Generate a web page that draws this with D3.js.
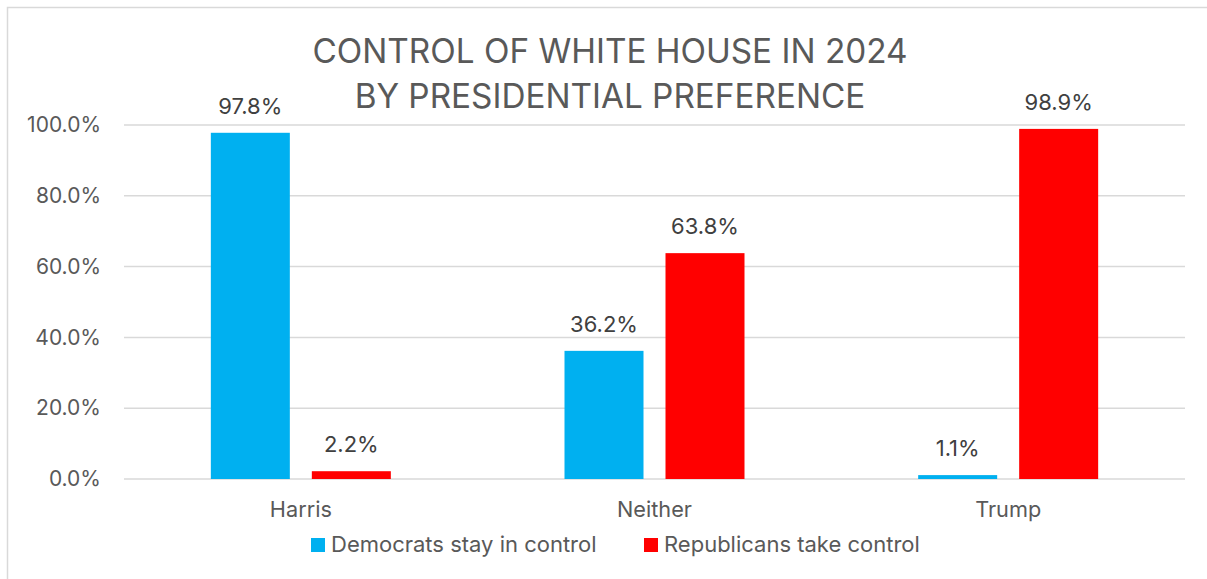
<!DOCTYPE html>
<html><head><meta charset="utf-8">
<script src="https://cdn.jsdelivr.net/npm/d3@7"></script>
<style>body{margin:0;background:#fff;font-family:Inter,sans-serif;}</style>
</head><body><svg id="c" width="1207" height="579"></svg>
<script>
const categories = ["Harris", "Neither", "Trump"];
const seriesNames = ["Democrats stay in control", "Republicans take control"];
const democrats = [0.978, 0.362, 0.011];
const republicans = [0.022, 0.638, 0.989];
const yTicks = [0, 0.2, 0.4, 0.6, 0.8, 1.0];
const titleLines = ["CONTROL OF WHITE HOUSE IN 2024", "BY PRESIDENTIAL PREFERENCE"];
const colors = ["#00B0F0", "#FF0000"];

(function () {
const svg = d3.select("#c");
const font = "Inter, 'Liberation Sans', sans-serif";
svg.append("rect").attr("x", 7.5).attr("y", 7.5).attr("width", 1205).attr("height", 580)
  .attr("fill", "#fff").attr("stroke", "#d9d9d9").attr("stroke-width", 1.5);

const pl = 124, pr = 1185, pt = 125, pb = 479;
const x = d3.scaleBand().domain(categories).range([pl, pr]).paddingInner(0).paddingOuter(0);
const y = d3.scaleLinear().domain([0, 1]).range([pb, pt]);
const barW = 79, gap = 22;

svg.append("g").selectAll("line").data(yTicks).join("line")
  .attr("x1", pl).attr("x2", pr)
  .attr("y1", d => y(d)).attr("y2", d => y(d))
  .attr("stroke", "#d9d9d9").attr("stroke-width", 1.5);

const yAxis = d3.axisLeft(y).tickValues(yTicks).tickFormat(d3.format(".1%")).tickSize(0).tickPadding(23);
const ya = svg.append("g").attr("transform", `translate(${pl},0)`).call(yAxis);
ya.select(".domain").remove();
ya.selectAll("text").attr("font-family", font).attr("font-size", 21).attr("fill", "#595959");

const xAxis = d3.axisBottom(x).tickSize(0).tickPadding(22);
const xa = svg.append("g").attr("transform", `translate(0,${pb})`).call(xAxis);
xa.select(".domain").remove();
xa.selectAll("text").attr("font-family", font).attr("font-size", 21.7).attr("fill", "#595959")
  .attr("dy", null).attr("y", 38);

const series = [democrats, republicans];
series.forEach((vals, si) => {
  const off = si === 0 ? -(gap / 2 + barW) : gap / 2;
  const g = svg.append("g");
  g.selectAll("rect").data(vals).join("rect")
    .attr("x", (d, i) => x(categories[i]) + x.bandwidth() / 2 + off)
    .attr("y", d => y(d)).attr("width", barW).attr("height", d => y(0) - y(d))
    .attr("fill", colors[si]);
  g.selectAll("text").data(vals).join("text")
    .attr("x", (d, i) => x(categories[i]) + x.bandwidth() / 2 + off + barW / 2)
    .attr("y", d => y(d) - 19)
    .attr("text-anchor", "middle").attr("font-family", font).attr("font-size", 22)
    .attr("fill", "#404040").text(d => d3.format(".1%")(d));
});

svg.append("g").selectAll("text").data(titleLines).join("text")
  .attr("x", 610).attr("y", (d, i) => 63 + i * 45)
  .attr("text-anchor", "middle").attr("font-family", font).attr("font-size", 33.3)
  .attr("fill", "#595959").text(d => d);

const legX = [311, 644];
const lg = svg.append("g");
seriesNames.forEach((n, i) => {
  lg.append("rect").attr("x", legX[i]).attr("y", 538).attr("width", 14).attr("height", 14).attr("fill", colors[i]);
  lg.append("text").attr("x", legX[i] + 20).attr("y", 552).attr("font-family", font).attr("font-size", 22)
    .attr("fill", "#595959").text(n);
});
})();
</script></body></html>
